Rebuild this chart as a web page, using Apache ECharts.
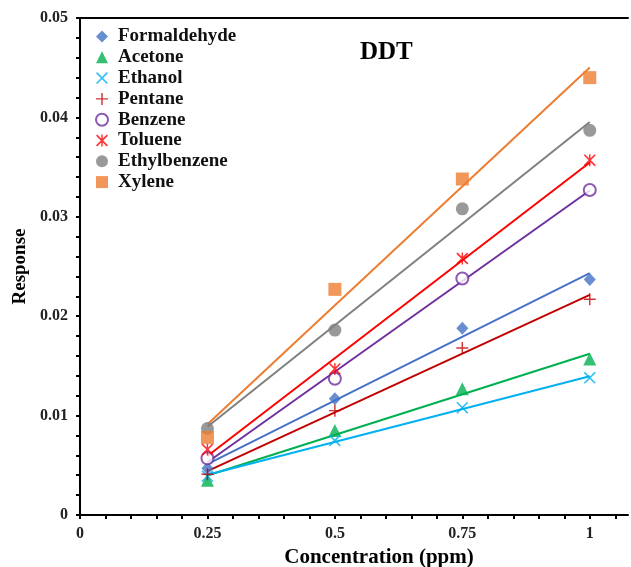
<!DOCTYPE html>
<html>
<head>
<meta charset="utf-8">
<script src="https://cdn.jsdelivr.net/npm/echarts@6/dist/echarts.min.js"></script>
<style>
html,body{margin:0;padding:0;background:#fff;}
#chart{width:631px;height:567px;}
</style>
</head>
<body>
<div id="chart"></div>
<script>
// ---- data ----
const concentrations = [0.25, 0.5, 0.75, 1];
const seriesNames = ['Formaldehyde', 'Acetone', 'Ethanol', 'Pentane', 'Benzene', 'Toluene', 'Ethylbenzene', 'Xylene'];
const formaldehyde = [0.0047, 0.0117, 0.0188, 0.0237];
const acetone      = [0.0035, 0.0085, 0.0127, 0.0157];
const ethanol      = [0.0039, 0.0075, 0.0108, 0.0138];
const pentane      = [0.0041, 0.0105, 0.0168, 0.0217];
const benzene      = [0.0057, 0.0137, 0.0238, 0.0327];
const toluene      = [0.0066, 0.0147, 0.0258, 0.0357];
const ethylbenzene = [0.0087, 0.0186, 0.0308, 0.0387];
const xylene       = [0.0078, 0.0227, 0.0338, 0.0440];
const xTickLabels = ['0', '0.25', '0.5', '0.75', '1'];
const xLabelValues = [0, 0.25, 0.5, 0.75, 1];
const xTickValues = [0, 0.05, 0.1, 0.15, 0.2, 0.25, 0.3, 0.35, 0.4, 0.45, 0.5, 0.55, 0.6, 0.65, 0.7, 0.75, 0.8, 0.85, 0.9, 0.95, 1, 1.05];
const yTickLabels = ['0', '0.01', '0.02', '0.03', '0.04', '0.05'];

const values = [formaldehyde, acetone, ethanol, pentane, benzene, toluene, ethylbenzene, xylene];
const colors = ['#4472C4', '#00B050', '#00B0F0', '#C00000', '#7030A0', '#FF0000', '#808080', '#ED7D31'];
const X_PATH = 'path://M1,0 L10,9 L9,10 L0,1 Z M9,0 L10,1 L1,10 L0,9 Z';
const PLUS_PATH = 'path://M4.4,0 L5.6,0 L5.6,4.4 L10,4.4 L10,5.6 L5.6,5.6 L5.6,10 L4.4,10 L4.4,5.6 L0,5.6 L0,4.4 L4.4,4.4 Z';
const AST_PATH = 'path://M1,0 L10,9 L9,10 L0,1 Z M9,0 L10,1 L1,10 L0,9 Z M4.4,0 L5.6,0 L5.6,10 L4.4,10 Z';
const symbols = ['diamond', 'triangle', X_PATH, PLUS_PATH, 'emptyCircle', AST_PATH, 'circle', 'rect'];
const sizes = [[12, 13], 13, 12, 12, 12, 12, 13, 13];

function fit(ys) {
  const n = concentrations.length;
  const mx = concentrations.reduce((a, b) => a + b, 0) / n;
  const my = ys.reduce((a, b) => a + b, 0) / n;
  let sxy = 0, sxx = 0;
  for (let i = 0; i < n; i++) {
    sxy += (concentrations[i] - mx) * (ys[i] - my);
    sxx += (concentrations[i] - mx) ** 2;
  }
  const k = sxy / sxx, b = my - k * mx;
  const x0 = concentrations[0], x1 = concentrations[n - 1];
  return [[x0, k * x0 + b], [x1, k * x1 + b]];
}

const FONT = "'Liberation Serif', 'Times New Roman', serif";
const series = [];
values.forEach((ys, i) => {
  series.push({
    name: seriesNames[i] + ' trend',
    type: 'line',
    data: fit(ys),
    showSymbol: false,
    silent: true,
    z: 1,
    lineStyle: { color: colors[i], width: 2 },
    itemStyle: { color: colors[i] }
  });
});
values.forEach((ys, i) => {
  series.push({
    name: seriesNames[i],
    type: 'scatter',
    data: concentrations.map((x, j) => [x, ys[j]]),
    symbol: symbols[i],
    symbolSize: sizes[i],
    z: 3,
    itemStyle: symbols[i] === 'emptyCircle'
      ? { color: colors[i], borderColor: colors[i], borderWidth: 2 }
      : { color: colors[i] }
  });
});

function isMultiple(v, step) {
  return Math.abs(v / step - Math.round(v / step)) < 1e-6;
}

const chart = echarts.init(document.getElementById('chart'), null, { renderer: 'canvas' });
chart.setOption({
  animation: false,
  backgroundColor: '#fff',
  title: {
    text: 'DDT',
    left: 360,
    top: 40,
    padding: 0,
    textStyle: { fontFamily: FONT, fontSize: 25, fontWeight: 'bold', color: '#000' }
  },
  legend: {
    data: seriesNames,
    orient: 'vertical',
    left: 95,
    top: 27,
    itemWidth: 12,
    itemHeight: 12,
    itemGap: 1.8,
    padding: 0,
    textStyle: { fontFamily: FONT, fontSize: 19, fontWeight: 'bold', color: '#111', lineHeight: 16, padding: [0, 0, 0, 5] }
  },
  grid: {
    left: 80,
    top: 18,
    bottom: 52,
    right: 3,
    containLabel: false,
    outerBoundsMode: 'none'
  },
  xAxis: [{
    type: 'value',
    min: 0,
    max: 1.075,
    name: 'Concentration (ppm)',
    nameLocation: 'middle',
    nameGap: 31,
    nameTextStyle: { fontFamily: FONT, fontSize: 21, fontWeight: 'bold', color: '#000', padding: [0, 0, 0, 50] },
    axisLine: { lineStyle: { color: '#000', width: 2 } },
    axisTick: { inside: false, length: 4, lineStyle: { color: '#000', width: 2 }, customValues: xTickValues },
    splitLine: { show: false },
    axisLabel: {
      margin: 11,
      fontFamily: FONT, fontSize: 16, fontWeight: 'bold', color: '#222',
      customValues: xLabelValues,
      formatter: v => xTickLabels[Math.round(v / 0.25)]
    }
  }, {
    type: 'value',
    position: 'top',
    min: 0,
    max: 1.075,
    axisLine: { show: true, onZero: false, lineStyle: { color: '#000', width: 2 } },
    axisTick: { show: false },
    axisLabel: { show: false },
    splitLine: { show: false }
  }],
  yAxis: {
    type: 'value',
    min: 0,
    max: 0.05,
    interval: 0.002,
    name: 'Response',
    nameLocation: 'middle',
    nameGap: 46,
    nameTextStyle: { fontFamily: FONT, fontSize: 19, fontWeight: 'bold', color: '#000' },
    axisLine: { lineStyle: { color: '#000', width: 2 } },
    axisTick: { inside: false, length: 4, lineStyle: { color: '#000', width: 2 } },
    splitLine: { show: false },
    axisLabel: {
      interval: 0,
      margin: 12,
      fontFamily: FONT, fontSize: 16, fontWeight: 'bold', color: '#222',
      formatter: v => isMultiple(v, 0.01) ? yTickLabels[Math.round(v / 0.01)] : ''
    }
  },
  series: series
});
</script>
</body>
</html>
